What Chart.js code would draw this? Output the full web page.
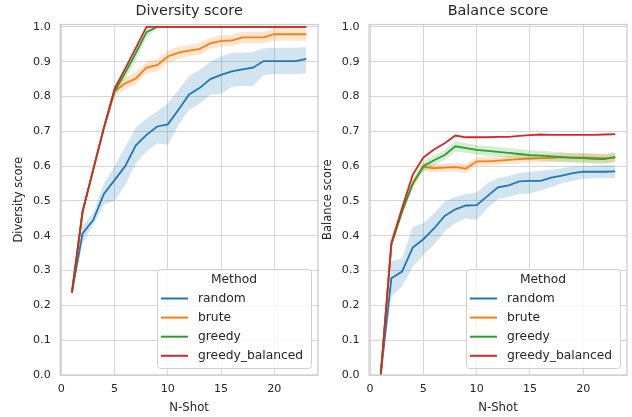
<!DOCTYPE html>
<html><head><meta charset="utf-8">
<script src="https://cdn.jsdelivr.net/npm/chart.js@4/dist/chart.umd.min.js"></script>
<style>
html,body{margin:0;padding:0;background:#fff;}
#wrap{position:relative;width:632px;height:417px;overflow:hidden;background:#fff;}
#c1{position:absolute;left:0;top:0;}
#c2{position:absolute;left:320px;top:0;}
</style></head><body>
<div id="wrap">
<canvas id="c1" width="320" height="417"></canvas>
<canvas id="c2" width="312" height="417"></canvas>
</div>
<script>
const nShot = [1,2,3,4,5,6,7,8,9,10,11,12,13,14,15,16,17,18,19,20,21,22,23];
const xTickValues = [0,5,10,15,20];
const yTickValues = [0,0.1,0.2,0.3,0.4,0.5,0.6,0.7,0.8,0.9,1.0];
const methods = ['random','brute','greedy','greedy_balanced'];
const lineColors = ['#1f77b4','#ff7f0e','#2ca02c','#d62728'];
const bandColors = ['rgba(31,119,180,0.2)','rgba(255,127,14,0.2)','rgba(44,160,44,0.2)','rgba(214,39,40,0.2)'];
const titles = ['Diversity score','Balance score'];
const yLabels = ['Diversity score','Balance score'];
const xLabel = 'N-Shot';
const legendTitle = 'Method';

// Diversity score
const divRandom   = [0.237,0.407,0.445,0.52,0.56,0.60,0.66,0.69,0.714,0.72,0.762,0.806,0.825,0.85,0.862,0.872,0.878,0.883,0.902,0.902,0.902,0.902,0.908];
const divRandomLo = [0.230,0.380,0.430,0.49,0.50,0.545,0.608,0.642,0.666,0.661,0.718,0.761,0.78,0.805,0.807,0.828,0.83,0.83,0.862,0.864,0.864,0.864,0.867];
const divRandomHi = [0.245,0.430,0.465,0.55,0.60,0.656,0.71,0.737,0.757,0.78,0.819,0.86,0.876,0.90,0.915,0.926,0.926,0.928,0.939,0.94,0.94,0.94,0.942];
const divBrute    = [0.237,0.469,0.59,0.71,0.815,0.838,0.852,0.883,0.89,0.915,0.926,0.932,0.937,0.953,0.96,0.961,0.97,0.97,0.97,0.979,0.979,0.979,0.979];
const divBruteLo  = [0.237,0.469,0.59,0.70,0.80,0.82,0.835,0.866,0.872,0.897,0.908,0.915,0.92,0.937,0.944,0.945,0.953,0.953,0.953,0.96,0.96,0.96,0.96];
const divBruteHi  = [0.237,0.469,0.59,0.72,0.83,0.856,0.87,0.90,0.908,0.932,0.943,0.949,0.954,0.969,0.976,0.977,0.986,0.986,0.986,0.996,0.996,0.996,0.996];
const divGreedy   = [0.237,0.469,0.59,0.71,0.815,0.868,0.925,0.985,1,1,1,1,1,1,1,1,1,1,1,1,1,1,1];
const divGreedyLo = [0.237,0.469,0.59,0.70,0.80,0.85,0.905,0.97,0.997,1,1,1,1,1,1,1,1,1,1,1,1,1,1];
const divGreedyHi = [0.237,0.469,0.59,0.72,0.83,0.886,0.945,1,1,1,1,1,1,1,1,1,1,1,1,1,1,1,1];
const divBalanced = [0.237,0.469,0.59,0.71,0.822,0.88,0.94,1,1,1,1,1,1,1,1,1,1,1,1,1,1,1,1];

// Balance score
const balRandom   = [0,0.278,0.297,0.366,0.39,0.421,0.457,0.476,0.487,0.488,0.514,0.539,0.545,0.556,0.558,0.558,0.567,0.573,0.58,0.584,0.584,0.584,0.585];
const balRandomLo = [0,0.225,0.254,0.311,0.345,0.374,0.412,0.436,0.45,0.445,0.479,0.505,0.512,0.52,0.522,0.53,0.54,0.551,0.558,0.563,0.565,0.565,0.565];
const balRandomHi = [0,0.326,0.335,0.426,0.436,0.465,0.498,0.512,0.52,0.524,0.551,0.566,0.572,0.58,0.584,0.587,0.59,0.594,0.599,0.601,0.602,0.603,0.604];
const balBrute    = [0,0.375,0.47,0.55,0.598,0.594,0.596,0.597,0.593,0.614,0.614,0.616,0.618,0.62,0.622,0.623,0.624,0.625,0.625,0.625,0.624,0.623,0.624];
const balBruteLo  = [0,0.37,0.462,0.54,0.586,0.582,0.584,0.584,0.58,0.602,0.602,0.604,0.606,0.608,0.61,0.611,0.612,0.613,0.613,0.612,0.611,0.61,0.611];
const balBruteHi  = [0,0.38,0.478,0.56,0.61,0.606,0.608,0.61,0.606,0.626,0.626,0.628,0.63,0.632,0.634,0.635,0.636,0.637,0.637,0.638,0.637,0.636,0.637];
const balGreedy   = [0,0.375,0.47,0.55,0.60,0.617,0.632,0.657,0.652,0.647,0.644,0.641,0.638,0.635,0.632,0.63,0.628,0.626,0.624,0.623,0.621,0.62,0.627];
const balGreedyLo = [0,0.37,0.46,0.538,0.586,0.603,0.618,0.642,0.638,0.633,0.63,0.627,0.624,0.621,0.618,0.616,0.614,0.612,0.61,0.609,0.607,0.606,0.613];
const balGreedyHi = [0,0.38,0.48,0.562,0.614,0.631,0.646,0.672,0.666,0.661,0.658,0.655,0.652,0.649,0.646,0.644,0.642,0.64,0.638,0.637,0.635,0.634,0.641];
const balBalanced = [0,0.38,0.48,0.575,0.625,0.648,0.666,0.688,0.683,0.683,0.683,0.684,0.684,0.687,0.689,0.691,0.69,0.69,0.69,0.69,0.69,0.691,0.692];

const FONT = "'DejaVu Sans', sans-serif";
const TXT = '#262626';

function pts(arr){ return nShot.map((n,k)=>({x:n,y:arr[k]})); }

function buildDatasets(series){
  const ds = [];
  series.forEach((s,i)=>{
    if (s.lo) {
      ds.push({label:'_lo', data:pts(s.lo), borderWidth:0, pointRadius:0, fill:false, order:100-i*3});
      ds.push({label:'_hi', data:pts(s.hi), borderWidth:0, pointRadius:0, fill:'-1', backgroundColor:bandColors[i], order:99-i*3});
    }
    ds.push({label:methods[i], data:pts(s.mean), borderColor:lineColors[i], backgroundColor:lineColors[i],
      borderWidth:1.8, pointRadius:0, fill:false, tension:0, order:98-i*3, isLine:true});
  });
  return ds;
}

const decor = {
  id:'decor',
  afterDraw(chart, args, opts){
    const ctx = chart.ctx, a = chart.chartArea;
    ctx.save();
    ctx.strokeStyle = '#cccccc'; ctx.lineWidth = 1.25;
    ctx.strokeRect(a.left, a.top, a.right-a.left, a.bottom-a.top);
    ctx.fillStyle = TXT; ctx.font = '14.4px ' + FONT;
    ctx.textAlign = 'center'; ctx.textBaseline = 'middle';
    ctx.fillText(opts.title, (a.left+a.right)/2, 11);
    const w = 154, h = 99;
    const x0 = a.right - 7 - w, y0 = a.bottom - 7 - h;
    ctx.beginPath();
    ctx.roundRect(x0+0.5, y0+0.5, w, h, 3);
    ctx.fillStyle = 'rgba(255,255,255,0.8)'; ctx.fill();
    ctx.strokeStyle = '#d0d0d0'; ctx.lineWidth = 1; ctx.stroke();
    ctx.fillStyle = TXT; ctx.font = '12.3px ' + FONT;
    ctx.textAlign = 'center';
    ctx.fillText(legendTitle, x0 + w/2, y0 + 11);
    const lines = chart.data.datasets.filter(d=>d.isLine);
    lines.forEach((d,k)=>{
      const y = y0 + 29.5 + k*19.1;
      ctx.strokeStyle = d.borderColor; ctx.lineWidth = 2;
      ctx.beginPath(); ctx.moveTo(x0+4, y); ctx.lineTo(x0+31, y); ctx.stroke();
      ctx.fillStyle = TXT; ctx.textAlign = 'left';
      ctx.fillText(d.label, x0+41, y);
    });
    ctx.restore();
  }
};

function makeChart(id, series, idx, yWidth, yTitlePad, padRight){
  return new Chart(document.getElementById(id), {
    type:'line',
    data:{datasets:buildDatasets(series)},
    plugins:[decor],
    options:{
      responsive:false, animation:false, devicePixelRatio:1,
      layout:{padding:{left:0, right:padRight, top:24.5, bottom:0}},
      plugins:{legend:{display:false}, tooltip:{enabled:false}, title:{display:false}, decor:{title:titles[idx]}},
      scales:{
        x:{type:'linear', min:-0.1, max:24.1,
          afterBuildTicks:(s)=>{ s.ticks = xTickValues.map(v=>({value:v})); },
          afterFit:(s)=>{ s.height = 42; },
          grid:{color:'#d6d6d6', lineWidth:1, drawTicks:false},
          border:{display:false},
          ticks:{color:TXT, font:{family:FONT, size:11.1}, padding:7.6, maxRotation:0, callback:(v)=>String(v)},
          title:{display:true, text:xLabel, color:TXT, font:{family:FONT, size:11.7}, padding:{top:0,bottom:2}}
        },
        y:{type:'linear', min:0, max:1.007,
          afterBuildTicks:(s)=>{ s.ticks = yTickValues.map(v=>({value:v})); },
          afterFit:(s)=>{ s.width = yWidth; },
          grid:{color:'#d6d6d6', lineWidth:1, drawTicks:false},
          border:{display:false},
          ticks:{color:TXT, font:{family:FONT, size:11.1}, padding:9.5, callback:(v)=>Number(v).toFixed(1)},
          title:{display:true, text:yLabels[idx], color:TXT, font:{family:FONT, size:11.5}, padding:{top:yTitlePad,bottom:0}}
        }
      }
    }
  });
}

makeChart('c1', [
  {mean:divRandom, lo:divRandomLo, hi:divRandomHi},
  {mean:divBrute, lo:divBruteLo, hi:divBruteHi},
  {mean:divGreedy, lo:divGreedyLo, hi:divGreedyHi},
  {mean:divBalanced}
], 0, 60.2, 12.1, 2);

makeChart('c2', [
  {mean:balRandom, lo:balRandomLo, hi:balRandomHi},
  {mean:balBrute, lo:balBruteLo, hi:balBruteHi},
  {mean:balGreedy, lo:balGreedyLo, hi:balGreedyHi},
  {mean:balBalanced}
], 1, 49, 1.1, 5);
</script>
</body></html>
